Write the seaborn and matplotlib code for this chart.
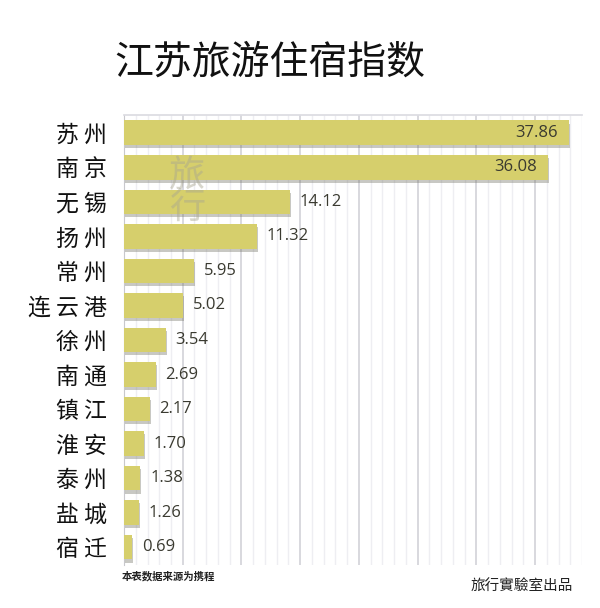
import matplotlib.pyplot as plt
import matplotlib.patheffects as pe
import numpy as np
import pandas as pd
import seaborn as sns

# data
cities = ['苏 州', '南 京', '无 锡', '扬 州', '常 州', '连 云 港', '徐 州',
          '南 通', '镇 江', '淮 安', '泰 州', '盐 城', '宿 迁']
values = [37.86, 36.08, 14.12, 11.32, 5.95, 5.02, 3.54, 2.69, 2.17, 1.70, 1.38, 1.26, 0.69]
labels = ['37.86', '36.08', '14.12', '11.32', '5.95', '5.02', '3.54',
          '2.69', '2.17', '1.70', '1.38', '1.26', '0.69']

df = pd.DataFrame({'city': cities, 'value': values})

sns.set_theme(style='white')
plt.rcParams['font.family'] = ['Noto Sans CJK SC', 'DejaVu Sans']

fig = plt.figure(figsize=(6, 6.08), dpi=100)
ax = fig.add_axes([0.2067, 0.0707, 0.7633, 0.7402])

sns.barplot(data=df, x='value', y='city', orient='h', color='#d6cf6c',
            saturation=1, width=0.72, ax=ax, zorder=3, linewidth=0)

shadow = [pe.SimplePatchShadow(offset=(0.8, -2.2), shadow_rgbFace='#77776a', alpha=0.4), pe.Normal()]
for p in ax.patches:
    p.set_path_effects(shadow)

# value labels, inside for the two long bars
for i, (v, t) in enumerate(zip(values, labels)):
    if v > 30:
        ax.text(v - 0.9, i, t, ha='right', va='center', fontsize=12,
                family='Open Sans', color='#3a3a30', zorder=5)
    else:
        ax.text(v + 0.85, i, t, ha='left', va='center', fontsize=12,
                family='Open Sans', color='#3a3a30', zorder=5)

ax.set_xlim(0, 39)
ax.set_ylim(12.52, -0.52)
ax.set_xticks(np.arange(5, 39, 5))
ax.set_xticks(np.arange(1, 40, 1), minor=True)
ax.grid(axis='x', which='major', color='#d2d2d8', linewidth=1.2, zorder=0)
ax.grid(axis='x', which='minor', color='#eeeef2', linewidth=1.0, zorder=0)
ax.tick_params(axis='x', which='both', bottom=False, labelbottom=False)
ax.tick_params(axis='y', length=0, pad=12, labelsize=16.5, labelcolor='#111111')
ax.set_xlabel('')
ax.set_ylabel('')
for s in ['bottom', 'right']:
    ax.spines[s].set_visible(False)
ax.spines['top'].set_color('#dcdce2')
ax.spines['left'].set_color('#c8c8cc')
ax.spines['left'].set_linewidth(0.8)

# faint watermark
ax.text(5.4, 1.7, '旅\n行', ha='center', va='center', fontsize=26,
        color='#a8a590', alpha=0.45, linespacing=0.85, zorder=4, fontweight='light')

fig.text(0.45, 0.897, '江苏旅游住宿指数', ha='center', va='center',
         fontsize=28, color='#111111')
fig.text(0.203, 0.053, '本表数据来源为携程', ha='left', va='center',
         fontsize=7.5, fontweight='bold', color='#222222')
fig.text(0.955, 0.034, '旅行實驗室出品', ha='right', va='center',
         fontsize=10.5, color='#222222', family=['Noto Sans CJK TC', 'DejaVu Sans'])

fig.savefig('out.png', dpi=100, facecolor='white')
